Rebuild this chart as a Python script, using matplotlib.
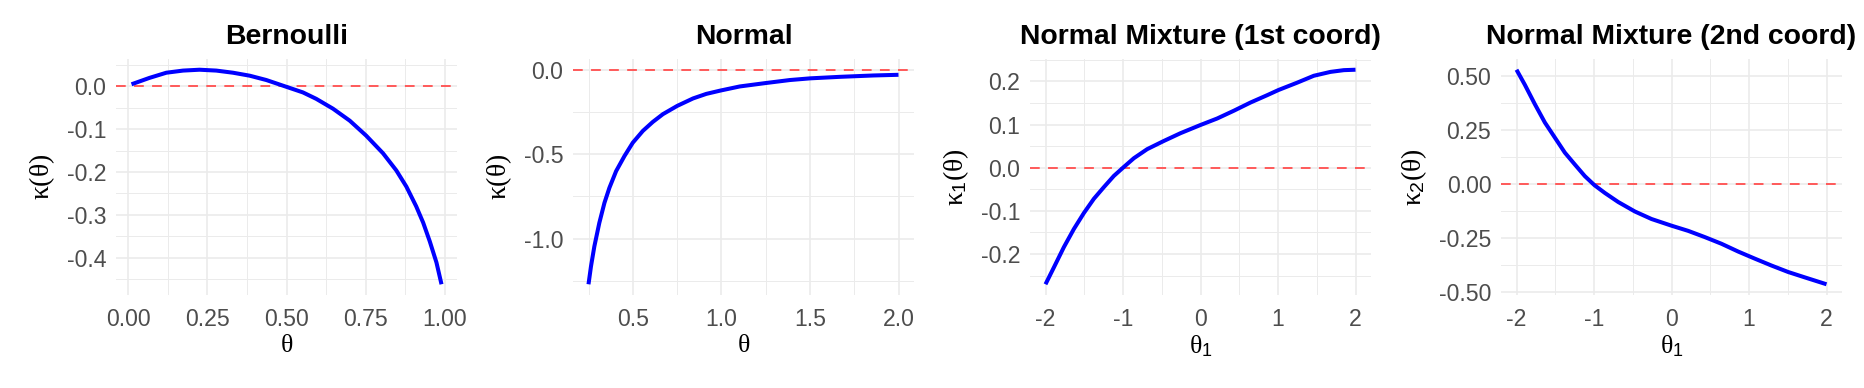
import matplotlib
matplotlib.use('Agg')
import matplotlib.pyplot as plt
import numpy as np

plt.rcParams['font.family'] = ['Liberation Sans', 'DejaVu Sans']
plt.rcParams['mathtext.fontset'] = 'custom'
plt.rcParams['mathtext.rm'] = 'Liberation Serif'
plt.rcParams['mathtext.it'] = 'Liberation Serif'
plt.rcParams['mathtext.sf'] = 'Liberation Sans'
plt.rcParams['lines.scale_dashes'] = False

# Bernoulli
bern_theta = [0.01, 0.067, 0.120, 0.173, 0.225, 0.278, 0.331, 0.384, 0.436, 0.50, 0.552, 0.594,
              0.647, 0.700, 0.752, 0.805, 0.847, 0.879, 0.910, 0.932, 0.953, 0.974, 0.99]
bern_kappa = [0.005, 0.020, 0.032, 0.037, 0.039, 0.037, 0.032, 0.025, 0.015, -0.001, -0.014, -0.029,
              -0.052, -0.080, -0.115, -0.156, -0.196, -0.234, -0.280, -0.318, -0.362, -0.411, -0.462]

# Normal
norm_theta = [0.25, 0.264, 0.283, 0.311, 0.340, 0.368, 0.406, 0.453, 0.50, 0.557, 0.613, 0.670,
              0.751, 0.840, 0.915, 0.996, 1.104, 1.249, 1.387, 1.502, 1.670, 1.858, 2.0]
norm_kappa = [-1.270, -1.164, -1.046, -0.907, -0.788, -0.699, -0.600, -0.511, -0.432, -0.362, -0.309,
              -0.263, -0.214, -0.170, -0.143, -0.123, -0.099, -0.079, -0.061, -0.051, -0.042, -0.034,
              -0.030]

# Normal mixture, 1st coordinate
mix1_theta = [-2.0, -1.892, -1.763, -1.634, -1.505, -1.376, -1.247, -1.118, -0.994, -0.860, -0.688,
              -0.473, -0.258, 0.0, 0.215, 0.430, 0.645, 0.860, 1.006, 1.247, 1.462, 1.677, 1.849, 2.0]
mix1_kappa = [-0.270, -0.231, -0.184, -0.142, -0.105, -0.072, -0.045, -0.019, 0.001, 0.022, 0.043,
              0.062, 0.080, 0.099, 0.114, 0.132, 0.151, 0.168, 0.180, 0.197, 0.213, 0.222, 0.226, 0.227]

# Normal mixture, 2nd coordinate
mix2_theta = [-2.0, -1.892, -1.763, -1.634, -1.505, -1.376, -1.247, -1.118, -0.994, -0.860, -0.688,
              -0.473, -0.258, 0.0, 0.215, 0.430, 0.645, 0.860, 1.075, 1.290, 1.505, 1.720, 2.0]
mix2_kappa = [0.530, 0.460, 0.370, 0.285, 0.215, 0.145, 0.090, 0.036, -0.006, -0.042, -0.084,
              -0.128, -0.163, -0.194, -0.218, -0.247, -0.278, -0.314, -0.347, -0.379, -0.409, -0.434,
              -0.466]

panels = [
    dict(title='Bernoulli', x=bern_theta, y=bern_kappa,
         xlabel=r'$\theta$', ylabel=r'$\kappa(\theta)$',
         xmaj=[0, 0.25, 0.5, 0.75, 1.0], xlab=['0.00', '0.25', '0.50', '0.75', '1.00'],
         xmin=[0.125, 0.375, 0.625, 0.875],
         ymaj=[-0.4, -0.3, -0.2, -0.1, 0.0], ylab=['-0.4', '-0.3', '-0.2', '-0.1', '0.0'],
         ymin=[-0.45, -0.35, -0.25, -0.15, -0.05, 0.05]),
    dict(title='Normal', x=norm_theta, y=norm_kappa,
         xlabel=r'$\theta$', ylabel=r'$\kappa(\theta)$',
         xmaj=[0.5, 1.0, 1.5, 2.0], xlab=['0.5', '1.0', '1.5', '2.0'],
         xmin=[0.25, 0.75, 1.25, 1.75],
         ymaj=[-1.0, -0.5, 0.0], ylab=['-1.0', '-0.5', '0.0'],
         ymin=[-1.25, -0.75, -0.25]),
    dict(title='Normal Mixture (1st coord)', x=mix1_theta, y=mix1_kappa,
         xlabel=r'$\theta_{\mathsf{1}}$', ylabel=r'$\kappa_{\mathsf{1}}(\theta)$',
         xmaj=[-2, -1, 0, 1, 2], xlab=['-2', '-1', '0', '1', '2'],
         xmin=[-1.5, -0.5, 0.5, 1.5],
         ymaj=[-0.2, -0.1, 0.0, 0.1, 0.2], ylab=['-0.2', '-0.1', '0.0', '0.1', '0.2'],
         ymin=[-0.25, -0.15, -0.05, 0.05, 0.15, 0.25]),
    dict(title='Normal Mixture (2nd coord)', x=mix2_theta, y=mix2_kappa,
         xlabel=r'$\theta_{\mathsf{1}}$', ylabel=r'$\kappa_{\mathsf{2}}(\theta)$',
         xmaj=[-2, -1, 0, 1, 2], xlab=['-2', '-1', '0', '1', '2'],
         xmin=[-1.5, -0.5, 0.5, 1.5],
         ymaj=[-0.5, -0.25, 0.0, 0.25, 0.5], ylab=['-0.50', '-0.25', '0.00', '0.25', '0.50'],
         ymin=[-0.375, -0.125, 0.125, 0.375]),
]

W, H = 1864, 388
fig = plt.figure(figsize=(W / 100, H / 100), dpi=100)
lefts = [116, 573, 1030, 1501]
pw, ptop, pbot = 341, 59, 295

for left, p in zip(lefts, panels):
    ax = fig.add_axes([left / W, (H - pbot) / H, pw / W, (pbot - ptop) / H])
    x = np.array(p['x'])
    y = np.array(p['y'])
    ax.axhline(0, color='#FF5959', lw=1.4, dashes=(7, 6), zorder=2)
    ax.plot(x, y, color='blue', lw=2.9, solid_capstyle='butt', zorder=3)
    # ggplot-style expansion (hline at 0 is part of the range)
    x0, x1 = x.min(), x.max()
    y0, y1 = min(y.min(), 0), max(y.max(), 0)
    ax.set_xlim(x0 - 0.05 * (x1 - x0), x1 + 0.05 * (x1 - x0))
    ax.set_ylim(y0 - 0.05 * (y1 - y0), y1 + 0.05 * (y1 - y0))
    ax.set_xticks(p['xmaj'])
    ax.set_xticklabels(p['xlab'])
    ax.set_xticks(p['xmin'], minor=True)
    ax.set_yticks(p['ymaj'])
    ax.set_yticklabels(p['ylab'])
    ax.set_yticks(p['ymin'], minor=True)
    ax.grid(which='major', color='#EBEBEB', lw=1.2)
    ax.grid(which='minor', color='#EBEBEB', lw=0.7)
    ax.set_axisbelow(True)
    for s in ax.spines.values():
        s.set_visible(False)
    ax.tick_params(which='both', length=0, labelsize=16.6, labelcolor='#4D4D4D')
    ax.tick_params(axis='x', pad=9)
    ax.tick_params(axis='y', pad=7)
    ax.set_title(p['title'], fontsize=20.4, fontweight='bold', pad=11)
    ax.set_xlabel(p['xlabel'], fontsize=18.5, labelpad=2)
    ax.set_ylabel(p['ylabel'], fontsize=20, labelpad=7)

fig.savefig('out.png', dpi=100)
